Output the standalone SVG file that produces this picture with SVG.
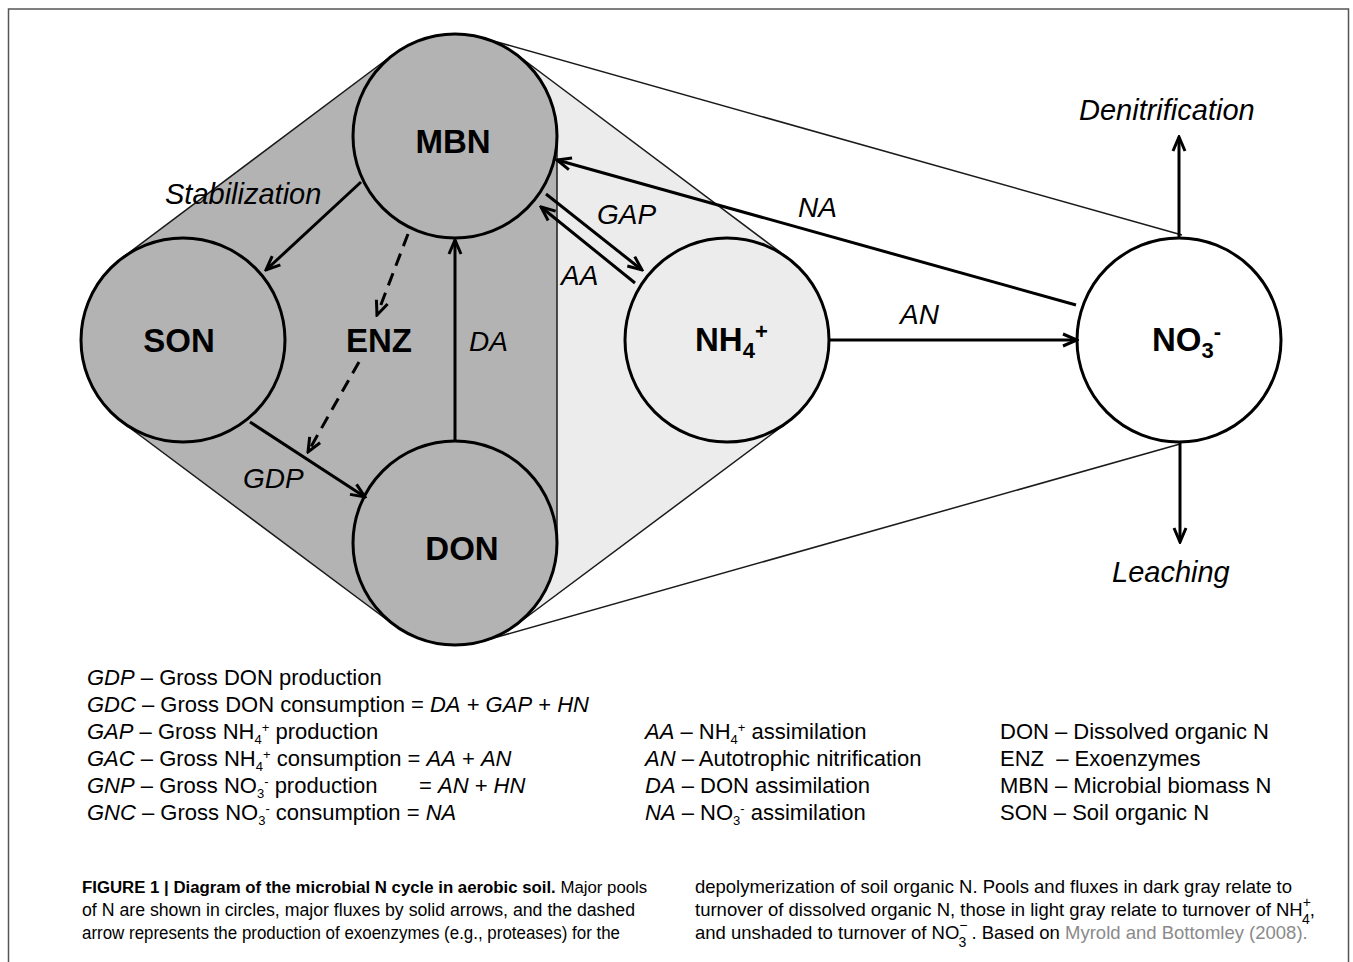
<svg xmlns="http://www.w3.org/2000/svg" width="1353" height="962" viewBox="0 0 1353 962">
<style>
text{font-family:"Liberation Sans",Arial,sans-serif;fill:#000}
.frame{stroke:#555;stroke-width:1.5;fill:none}
.hull{stroke:#1a1a1a;stroke-width:1.5;fill:none}
.node{stroke:#000;stroke-width:3}
.lbl{font-weight:bold;font-size:33px;text-anchor:middle}
.lbl2{font-weight:bold;font-size:33px}
.flx{font-style:italic;font-size:28px}
.big{font-style:italic;font-size:29px}
.arr{stroke:#000;stroke-width:3;fill:none;marker-end:url(#ah)}
.dash{stroke-dasharray:13 8}
.leg{font-size:22px;white-space:pre}
.i{font-style:italic}
.cap{font-size:17.5px;white-space:pre}
.cap1{font-size:16.8px;white-space:pre}
.capr{font-size:18.5px;white-space:pre}
.sm{font-size:14px}
.b{font-weight:bold}
.ref{fill:#8a8a8a}
</style>
<defs>
<marker id="ah" viewBox="0 0 18 16" refX="16" refY="8" markerWidth="18" markerHeight="16" markerUnits="userSpaceOnUse" orient="auto">
<path d="M2,2 L16,8 L2,14" fill="none" stroke="#000" stroke-width="3"/>
</marker>
</defs>
<rect width="1353" height="962" fill="#fff"/>
<path class="frame" d="M8.5,962 L8.5,9 L1348.5,9 L1348.5,962"/>

<g id="regions">
<path d="M516,54 L788,258 A102,102 0 0 1 788,422 L516,625 L557,543 L557,136 Z" fill="#ececec"/>
<path d="M122,258 L394,54 A102,102 0 0 1 557,136 L557,543 A102,102 0 0 1 394,625 L122,422 A102,102 0 0 1 122,258 Z" fill="#b3b3b3"/>
<line class="hull" x1="122" y1="258" x2="394" y2="54"/>
<line class="hull" x1="122" y1="422" x2="394" y2="625"/>
<line class="hull" x1="557" y1="136" x2="557" y2="543" stroke="#444"/>
<line class="hull" x1="516" y1="54" x2="788" y2="258"/>
<line class="hull" x1="516" y1="625" x2="788" y2="422"/>
<line class="hull" x1="483" y1="38" x2="1182" y2="235"/>
<line class="hull" x1="483" y1="641" x2="1180" y2="444"/>
</g>

<g id="MBN"><circle class="node" cx="455" cy="136" r="102" fill="#b3b3b3"/><text class="lbl" x="453" y="153">MBN</text></g>
<g id="SON"><circle class="node" cx="183" cy="340" r="102" fill="#b3b3b3"/><text class="lbl" x="179" y="352">SON</text></g>
<g id="DON"><circle class="node" cx="455" cy="543" r="102" fill="#b3b3b3"/><text class="lbl" x="462" y="560">DON</text></g>
<g id="ENZ"><text class="lbl" x="379" y="352">ENZ</text></g>
<g id="NH4"><circle class="node" cx="727" cy="340" r="102" fill="#ececec"/><text class="lbl2" x="695" y="351">NH<tspan font-size="22" dy="7">4</tspan><tspan font-size="22" dy="-19">+</tspan></text></g>
<g id="NO3"><circle class="node" cx="1179" cy="340" r="102" fill="#fff"/><text class="lbl2" x="1152" y="351">NO<tspan font-size="22" dy="7">3</tspan><tspan font-size="22" dy="-19">-</tspan></text></g>

<g id="connectors">
<line class="arr" x1="361" y1="182" x2="266" y2="270"/>
<line class="arr dash" x1="408" y1="234" x2="377" y2="315"/>
<line class="arr dash" x1="359" y1="362" x2="308" y2="452"/>
<line class="arr" x1="455" y1="441" x2="455" y2="240"/>
<line class="arr" x1="250" y1="422" x2="365" y2="497"/>
<line class="arr" x1="546" y1="194" x2="642" y2="270"/>
<line class="arr" x1="635" y1="283" x2="541" y2="207"/>
<line class="arr" x1="1076" y1="305" x2="557" y2="160"/>
<line class="arr" x1="829" y1="340" x2="1077" y2="340"/>
<line class="arr" x1="1179" y1="237" x2="1179" y2="137"/>
<line class="arr" x1="1180" y1="443" x2="1180" y2="542"/>
</g>

<g id="flux-labels">
<text class="big" x="165" y="204">Stabilization</text>
<text class="flx" x="469" y="351">DA</text>
<text class="flx" x="597" y="224">GAP</text>
<text class="flx" x="561" y="285">AA</text>
<text class="flx" x="798" y="217">NA</text>
<text class="flx" x="900" y="324">AN</text>
<text class="flx" x="243" y="488">GDP</text>
<text class="big" x="1079" y="120">Denitrification</text>
<text class="big" x="1112" y="582">Leaching</text>
</g>

<g id="legend">
<text class="leg" x="87" y="685"><tspan class="i">GDP</tspan> – Gross DON production</text>
<text class="leg" x="87" y="712"><tspan class="i">GDC</tspan> – Gross DON consumption = <tspan class="i">DA</tspan> + <tspan class="i">GAP</tspan> + <tspan class="i">HN</tspan></text>
<text class="leg" x="87" y="739"><tspan class="i">GAP</tspan> – Gross NH<tspan font-size="13" dy="5">4</tspan><tspan font-size="13" dy="-12">+</tspan><tspan dy="7"> production</tspan></text>
<text class="leg" x="87" y="766"><tspan class="i">GAC</tspan> – Gross NH<tspan font-size="13" dy="5">4</tspan><tspan font-size="13" dy="-12">+</tspan><tspan dy="7"> consumption = </tspan><tspan class="i">AA</tspan> + <tspan class="i">AN</tspan></text>
<text class="leg" x="87" y="793"><tspan class="i">GNP</tspan> – Gross NO<tspan font-size="13" dy="5">3</tspan><tspan font-size="13" dy="-12">-</tspan><tspan dy="7"> production</tspan><tspan x="419">= </tspan><tspan class="i">AN</tspan> + <tspan class="i">HN</tspan></text>
<text class="leg" x="87" y="820"><tspan class="i">GNC</tspan> – Gross NO<tspan font-size="13" dy="5">3</tspan><tspan font-size="13" dy="-12">-</tspan><tspan dy="7"> consumption = </tspan><tspan class="i">NA</tspan></text>

<text class="leg" x="645" y="739"><tspan class="i">AA</tspan> – NH<tspan font-size="13" dy="5">4</tspan><tspan font-size="13" dy="-12">+</tspan><tspan dy="7"> assimilation</tspan></text>
<text class="leg" x="645" y="766"><tspan class="i">AN</tspan> – Autotrophic nitrification</text>
<text class="leg" x="645" y="793"><tspan class="i">DA</tspan> – DON assimilation</text>
<text class="leg" x="645" y="820"><tspan class="i">NA</tspan> – NO<tspan font-size="13" dy="5">3</tspan><tspan font-size="13" dy="-12">-</tspan><tspan dy="7"> assimilation</tspan></text>

<text class="leg" x="1000" y="739">DON – Dissolved organic N</text>
<text class="leg" x="1000" y="766">ENZ  – Exoenzymes</text>
<text class="leg" x="1000" y="793">MBN – Microbial biomass N</text>
<text class="leg" x="1000" y="820">SON – Soil organic N</text>
</g>

<g id="caption">
<text class="cap1" x="82" y="893"><tspan class="b">FIGURE 1 | Diagram of the microbial N cycle in aerobic soil.</tspan> Major pools</text>
<text class="cap" x="82" y="916" textLength="553" lengthAdjust="spacingAndGlyphs">of N are shown in circles, major fluxes by solid arrows, and the dashed</text>
<text class="cap" x="82" y="939" textLength="538" lengthAdjust="spacingAndGlyphs">arrow represents the production of exoenzymes (e.g., proteases) for the</text>
<text class="capr" x="695" y="893" textLength="597" lengthAdjust="spacingAndGlyphs">depolymerization of soil organic N. Pools and fluxes in dark gray relate to</text>
<text class="capr" x="695" y="916">turnover of dissolved organic N, those in light gray relate to turnover of NH<tspan class="sm" dy="-9">+</tspan><tspan class="sm" dx="-9" dy="17">4</tspan><tspan dy="-8">,</tspan></text>
<text class="capr" x="695" y="939">and unshaded to turnover of NO<tspan class="sm" dy="-9">−</tspan><tspan class="sm" dx="-9" dy="17">3</tspan><tspan dy="-8"> . Based on </tspan><tspan class="ref">Myrold and Bottomley (2008).</tspan></text>
</g>
</svg>
